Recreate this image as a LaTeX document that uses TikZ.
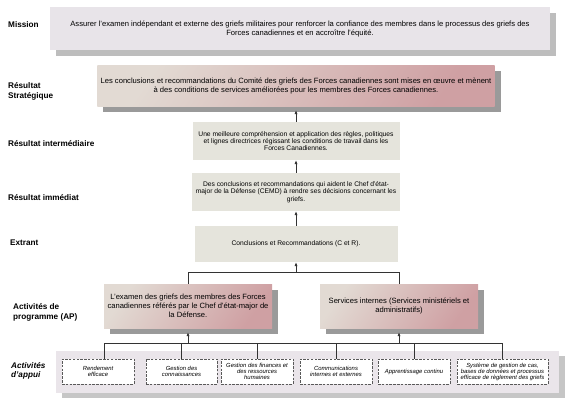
\documentclass[tikz,border=0pt]{standalone}
\usepackage{fontspec}
\setmainfont{Liberation Sans}
\usetikzlibrary{shadows,arrows.meta}

\definecolor{missionfill}{HTML}{E8E4E9}
\definecolor{missionshadow}{HTML}{BDBDBD}
\definecolor{pinklight}{HTML}{E2DAD3}
\definecolor{pinkdark}{HTML}{CFA0A3}
\definecolor{pinkshadow}{HTML}{9A9A9A}
\definecolor{resultfill}{HTML}{E5E4DC}
\definecolor{appuifill}{HTML}{EAE5EA}
\definecolor{appuishadow}{HTML}{C6C6C6}
\colorlet{link edge}{black!80}
\colorlet{task edge}{black!65}
\tikzset{
  level/.style={anchor=west, align=left, inner sep=0pt, font=\bfseries\fontsize{8.2}{10}\selectfont},
  mission/.style={fill=missionfill, align=center, font=\fontsize{7.6}{9}\selectfont,
    general shadow={fill=missionshadow, shadow xshift=6pt, shadow yshift=-6pt}},
  pinkbox/.style={top color=pinklight, bottom color=pinkdark, shading angle=55,
    align=center, font=\fontsize{7.6}{9}\selectfont,
    general shadow={fill=pinkshadow, shadow xshift=6pt, shadow yshift=-6pt}},
  result/.style={fill=resultfill, align=center, minimum width=207pt,
    font=\fontsize{6.7}{7.4}\selectfont},
  support/.style={fill=appuifill, minimum width=503pt, minimum height=42pt,
    general shadow={fill=appuishadow, shadow xshift=6pt, shadow yshift=-5pt}},
  task/.style={draw=task edge, line width=0.8pt, dash pattern=on 2.5pt off 1.3pt, fill=white,
    align=center, minimum height=25pt, inner sep=1pt, font=\itshape\fontsize{5.9}{6}\selectfont}
  }
\tikzstyle{link} = [draw=link edge, line width=0.7pt]
\tikzstyle{arrow} = [link, -{Latex[length=4pt,width=3.2pt]}]

\begin{document}
\begin{tikzpicture}[x=1pt,y=-1pt]
  \useasboundingbox (0,0) rectangle (575,407);

  % level names
  \foreach \pos/\name/\txt in {{(8,25)/lmission/Mission}, {(8,91.5)/lstrat/{Résultat\\Stratégique}},
      {(8,144)/linter/Résultat intermédiaire}, {(8,198)/limm/Résultat immédiat},
      {(10,243)/lextr/Extrant}, {(13,312)/lap/{Activités de\\programme (AP)}}} {
    \node[level] (\name) at \pos {\txt};
  }
  \node[level, font=\bfseries\itshape\fontsize{8.2}{9.5}\selectfont] (lappui) at (11,371) {Activités\\d'appui};

  % results chain
  \node[mission, minimum width=500pt, minimum height=43pt] (mission) at (300,28.5)
    {Assurer l'examen indépendant et externe des griefs militaires pour renforcer la confiance des membres dans le processus des griefs des\\Forces canadiennes et en accroître l'équité.};
  \node[pinkbox, minimum width=396pt, minimum height=41pt] (strat) at (296,85.5)
    {Les conclusions et recommandations du Comité des griefs des Forces canadiennes sont mises en œuvre et mènent\\à des conditions de services améliorées pour les membres des Forces canadiennes.};
  \node[result, minimum height=38pt] (inter) at (296,141)
    {Une meilleure compréhension et application des règles, politiques\\et lignes directrices régissant les conditions de travail dans les\\Forces Canadiennes.};
  \node[result, minimum height=38pt] (imm) at (296,192)
    {Des conclusions et recommandations qui aident le Chef d'état-\\major de la Défense (CEMD) à rendre ses décisions concernant les\\griefs.};
  \node[result, minimum width=203pt, minimum height=36pt] (extr) at (296,244)
    {Conclusions et Recommandations (C et R).};

  % program activities
  \node[pinkbox, minimum width=168pt, minimum height=44pt] (ap1) at (188,306)
    {L'examen des griefs des membres des Forces\\canadiennes référés par le Chef d'état-major de\\la Défense.};
  \node[pinkbox, minimum width=158pt, minimum height=44pt] (ap2) at (399,306)
    {Services internes (Services ministériels et\\administratifs)};

  % support activities
  \node[support] (appui) at (307.5,372) {};
  \foreach \pos/\boxw/\name/\txt in {{(98,371.5)/72/b1/{Rendement\\efficace}},
      {(181.5,371.5)/71/b2/{Gestion des\\connaissances}},
      {(257,371.5)/72/b3/{Gestion des finances et\\des ressources\\humaines}},
      {(336,371.5)/72/b4/{Communications\\internes et externes}},
      {(414,371.5)/72/b5/{Apprentissage continu}},
      {(502.5,371.5)/91/b6/{Système de gestion de cas,\\bases de données et processus\\efficace de règlement des griefs}}} {
    \node[task, minimum width=\boxw pt] (\name) at \pos {\txt};
  }

  % connectors
  \coordinate (join) at (0,272);
  \coordinate (bus) at (0,343);
  \draw[arrow] (extr) -- (imm);
  \draw[arrow] (imm) -- (inter);
  \draw[arrow, shorten >=4pt] (inter) -- (strat);
  \draw[link] (ap1.north) |- (ap2.north |- join) -- (ap2.north);
  \draw[arrow] (extr.south |- join) -- (extr.south);
  \draw[link] ([xshift=6pt]b1.north |- bus) -- (b6.north |- bus);
  \draw[link] ([xshift=6pt]b1.north |- bus) -- ([xshift=6pt]b1.north);
  \foreach \name in {b2,b3,b4,b5,b6} {
    \draw[link] (\name.north |- bus) -- (\name.north);
  }
  \draw[arrow, shorten >=4pt] (ap1.south |- bus) -- (ap1.south);
  \draw[arrow, shorten >=4pt] (ap2.south |- bus) -- (ap2.south);

\end{tikzpicture}
\end{document}
